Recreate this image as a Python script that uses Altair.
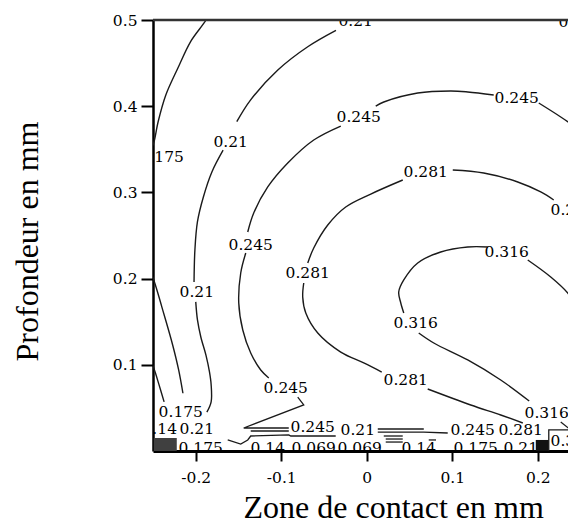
import altair as alt
import pandas as pd

# ---- contour line pieces (x in mm, y in mm) ----
c175_top = [(-0.185, 0.507), (-0.188, 0.500), (-0.206, 0.475), (-0.221, 0.444),
            (-0.235, 0.413), (-0.244, 0.382), (-0.249, 0.358), (-0.252, 0.351)]
c175_low = [(-0.253, 0.208), (-0.249, 0.198), (-0.237, 0.158), (-0.227, 0.123),
            (-0.220, 0.094), (-0.215, 0.067)]
c140_left = [(-0.252, 0.103), (-0.249, 0.096), (-0.243, 0.077), (-0.237, 0.057)]

c210_a = [(-0.036, 0.488), (-0.069, 0.469), (-0.104, 0.442), (-0.136, 0.407), (-0.152, 0.382)]
c210_b = [(-0.168, 0.349), (-0.181, 0.324), (-0.191, 0.295), (-0.198, 0.266),
          (-0.201, 0.233), (-0.202, 0.196)]
c210_c = [(-0.200, 0.173), (-0.198, 0.152), (-0.194, 0.132), (-0.188, 0.111),
          (-0.184, 0.092), (-0.182, 0.077), (-0.182, 0.057), (-0.187, 0.045)]

c245_a = [(0.2012, 0.4037), (0.2269, 0.3875), (0.2456, 0.3747), (0.2643, 0.3608)]
c245_b = [(0.1485, 0.413), (0.1181, 0.4165), (0.0982, 0.4176), (0.0596, 0.4153),
          (0.0199, 0.4049), (0.0105, 0.4002)]
c245_c = [(-0.0304, 0.377), (-0.062, 0.3608), (-0.0924, 0.3341), (-0.1158, 0.3063),
          (-0.1322, 0.2761), (-0.1392, 0.2541)]
c245_d = [(-0.1415, 0.2297), (-0.1474, 0.2065), (-0.1497, 0.1717), (-0.145, 0.1404),
          (-0.1357, 0.1137), (-0.124, 0.094), (-0.1146, 0.0847)]

c281_a = [(0.2187, 0.2912), (0.2035, 0.3005), (0.1766, 0.3121), (0.1368, 0.3225), (0.1006, 0.326)]
c281_b = [(0.0421, 0.3144), (0.0047, 0.2981), (-0.0246, 0.2831), (-0.0456, 0.2622),
          (-0.062, 0.2355), (-0.069, 0.2181)]
c281_c = [(-0.0737, 0.1949), (-0.0749, 0.1787), (-0.0713, 0.1601), (-0.0573, 0.1369),
          (-0.0304, 0.1148), (-0.0035, 0.1021), (0.0175, 0.0916)]
c281_d = [(0.0713, 0.0719), (0.1216, 0.0534), (0.1567, 0.0418), (0.1825, 0.0325)]

c316_a = [(0.1415, 0.2367), (0.1181, 0.2367), (0.0865, 0.2309), (0.0596, 0.2181),
          (0.0433, 0.1984), (0.0374, 0.1845), (0.0398, 0.1717), (0.0433, 0.1601)]
c316_b = [(0.0608, 0.1369), (0.0784, 0.1253), (0.1181, 0.1056), (0.1567, 0.0824), (0.1900, 0.0580)]
c316_c = [(0.1883, 0.2216), (0.2152, 0.2019), (0.2351, 0.1833), (0.2456, 0.1671), (0.262, 0.1404)]

# ---- noisy pieces along the contact surface (straight segments) ----
near_a = [(-0.0807, 0.0626), (-0.0737, 0.0534), (-0.1439, 0.0267), (-0.0912, 0.0267)]
near_b = [(-0.1357, 0.0232), (-0.0912, 0.0232)]
near_c = [(-0.1626, 0.0128), (-0.1474, 0.0081), (-0.1392, 0.0128), (-0.1357, 0.0174),
          (-0.0912, 0.0186), (-0.0889, 0.0174), (-0.0363, 0.0174)]
near_d = [(0.0129, 0.0255), (0.0667, 0.0255)]
near_e = [(0.0129, 0.0220), (0.0667, 0.0220), (0.0947, 0.0209)]
near_f = [(0.0199, 0.0174), (0.0421, 0.0174)]
near_g = [(0.0222, 0.0139), (0.0421, 0.0139)]
near_h = [(0.0222, 0.0104), (0.0421, 0.0104)]
near_i = [(0.0725, 0.0128), (0.0810, 0.0128)]
near_j = [(0.2269, 0.0336), (0.2386, 0.0244)]
near_box = [(0.2129, 0.0), (0.2129, 0.0244), (0.262, 0.0244)]

smooth_segments = {
    "c175_top": c175_top, "c175_low": c175_low, "c140_left": c140_left,
    "c210_a": c210_a, "c210_b": c210_b, "c210_c": c210_c,
    "c245_a": c245_a, "c245_b": c245_b, "c245_c": c245_c, "c245_d": c245_d,
    "c281_a": c281_a, "c281_b": c281_b, "c281_c": c281_c, "c281_d": c281_d,
    "c316_a": c316_a, "c316_b": c316_b, "c316_c": c316_c,
}
straight_segments = {
    "near_a": near_a, "near_b": near_b, "near_c": near_c, "near_d": near_d,
    "near_e": near_e, "near_f": near_f, "near_g": near_g, "near_h": near_h,
    "near_i": near_i, "near_j": near_j, "near_box": near_box,
}

# ---- contour labels ----
label_text = ["0.175", "0.21", "0.21", "0.21", "0.21",
              "0.245", "0.245", "0.245", "0.245",
              "0.281", "0.281", "0.281", "0.281",
              "0.316", "0.316", "0.316",
              "0.175", "0.14", "0.21", "0.245", "0.21", "0.245", "0.281",
              "0.175", "0.14", "0.069", "0.069", "0.14", "0.175", "0.21", "0.316"]
label_x = [-0.2398, -0.1591, -0.1988, -0.0129, 0.2444,
           0.1754, -0.0094, -0.1357, -0.0947,
           0.069, 0.2409, -0.069, 0.0456,
           0.1637, 0.0573, 0.2105,
           -0.2175, -0.2421, -0.1988, -0.0632, -0.0105, 0.124, 0.1801,
           -0.1942, -0.1158, -0.062, -0.0082, 0.0608, 0.1275, 0.1801, 0.2409]
label_y = [0.3411, 0.3585, 0.1845, 0.4988, 0.4977,
           0.4095, 0.3875, 0.239, 0.0731,
           0.3237, 0.2796, 0.2065, 0.0824,
           0.2309, 0.1485, 0.0441,
           0.0452, 0.0255, 0.0255, 0.0278, 0.0244, 0.0244, 0.0244,
           0.0035, 0.0035, 0.0035, 0.0035, 0.0035, 0.0035, 0.0035, 0.0116]

# ---- small filled cells at the contact surface ----
cell_x = [-0.2491, 0.1977]
cell_x2 = [-0.2222, 0.2129]
cell_y = [0.0, 0.0]
cell_y2 = [0.0151, 0.0128]
cell_color = ["#404040", "#111111"]

border_y = [0.5]

x_ticks = [-0.2, -0.1, 0, 0.1, 0.2]
y_ticks = [0.1, 0.2, 0.3, 0.4, 0.5]


def to_frame(segs):
    rows = []
    for name, pts in segs.items():
        for i, (x, y) in enumerate(pts):
            rows.append({"seg": name, "i": i, "x": x, "y": y})
    return pd.DataFrame(rows)


df_smooth = to_frame(smooth_segments)
df_straight = to_frame(straight_segments)
df_labels = pd.DataFrame({"t": label_text, "x": label_x, "y": label_y})
df_cells = pd.DataFrame({"x": cell_x, "x2": cell_x2, "y": cell_y, "y2": cell_y2, "c": cell_color})
df_border = pd.DataFrame({"y": border_y})

xscale = alt.Scale(domain=[-0.25, 0.23538], nice=False, zero=False)
yscale = alt.Scale(domain=[0.0, 0.5], nice=False, zero=False)

xaxis = alt.Axis(
    values=x_ticks,
    labelExpr="datum.value < 0 ? '-' + format(-datum.value, '.1f') : (datum.value > 0 ? format(datum.value, '.1f') : '0')",
    title="Zone de contact en mm",
    titleFont="Liberation Serif", titleFontSize=32, titleFontWeight="normal", titleColor="black",
    titleX=90, titleY=66, titleAlign="left", titleBaseline="alphabetic",
    labelFont="DejaVu Serif", labelFontSize=15.5, labelColor="black", labelPadding=9,
    tickSize=10, tickWidth=2, tickColor="black",
    domainColor="black", domainWidth=3, grid=False, labelFlush=False, labelOverlap=False,
)
yaxis = alt.Axis(
    values=y_ticks, format=".1f",
    title="Profondeur en mm",
    titleFont="Liberation Serif", titleFontSize=32, titleFontWeight="normal", titleColor="black",
    titleAngle=270, titleX=-116, titleY=221, titleAlign="center", titleBaseline="alphabetic",
    labelFont="DejaVu Serif", labelFontSize=15.5, labelColor="black", labelPadding=4,
    tickSize=12, tickWidth=2, tickColor="black",
    domainColor="black", domainWidth=2.5, grid=False, labelFlush=False, labelOverlap=False,
)


def X(f):
    return alt.X(f, type="quantitative", scale=xscale, axis=xaxis)


def Y(f):
    return alt.Y(f, type="quantitative", scale=yscale, axis=yaxis)


smooth = alt.Chart(df_smooth).mark_line(
    interpolate="catmull-rom", color="#1a1a1a", strokeWidth=1.4, clip=True
).encode(x=X("x"), y=Y("y"), detail="seg:N", order=alt.Order("i:Q"))

straight = alt.Chart(df_straight).mark_line(
    color="#1a1a1a", strokeWidth=1.3, clip=True
).encode(x=X("x"), y=Y("y"), detail="seg:N", order=alt.Order("i:Q"))

cells = alt.Chart(df_cells).mark_rect(clip=True).encode(
    x=X("x"), x2="x2", y=Y("y"), y2="y2",
    color=alt.Color("c:N", scale=None),
)

labels = alt.Chart(df_labels).mark_text(
    font="DejaVu Serif", fontSize=15.5, color="black", align="center", baseline="middle", clip=True
).encode(x=X("x"), y=Y("y"), text="t:N")

border = alt.Chart(df_border).mark_rule(color="#333333", strokeWidth=2.5).encode(y=Y("y"))

chart = alt.layer(cells, smooth, straight, labels, border).properties(
    width=415, height=431,
    padding={"left": 145, "top": 12, "right": 0, "bottom": 72},
    autosize=alt.AutoSizeParams(type="none"),
    background="white",
).configure_view(stroke=None)

chart.save("out.html", embed_options={"renderer": "svg", "actions": False})
